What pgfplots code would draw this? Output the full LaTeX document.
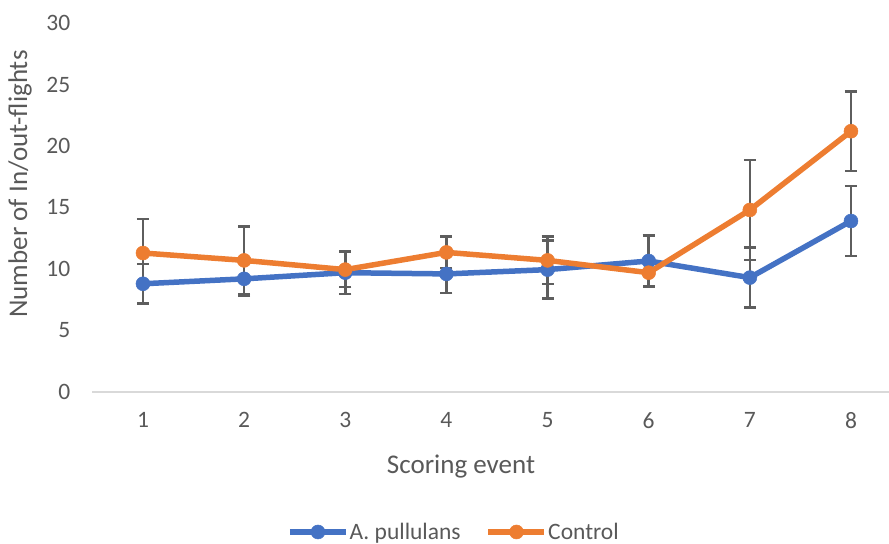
\documentclass[border=0pt]{standalone}
\usepackage{pgfplots}
\pgfplotsset{compat=1.18}
\usepackage{pgfplotstable}
\usepackage{fontspec}
\setmainfont{Carlito}

\definecolor{serBlue}{HTML}{4472C4}
\definecolor{serOrange}{HTML}{ED7D31}
\definecolor{txtGray}{HTML}{595959}
\definecolor{errGray}{HTML}{5E5E5E}
\definecolor{axGray}{HTML}{D9D9D9}

% event, mean, standard error
\pgfplotstableread{
x  y      e
1  8.80   1.60
2  9.20   1.35
3  9.70   1.75
4  9.60   1.55
5  9.95   2.35
6  10.65  2.06
7  9.30   2.45
8  13.90  2.85
}\pullulans

\pgfplotstableread{
x  y      e
1  11.30  2.75
2  10.70  2.75
3  9.95   1.43
4  11.35  1.28
5  10.70  1.93
6  9.70   1.13
7  14.80  4.06
8  21.20  3.25
}\control

\begin{document}
\begin{tikzpicture}
\begin{axis}[
  at={(92.4bp,152bp)}, anchor=south west,
  scale only axis,
  width=796.6bp, height=369bp,
  xmin=0.5, xmax=8.376,
  ymin=0, ymax=30,
  xtick={1,...,8},
  ytick={0,5,...,30},
  major tick length=0pt,
  axis x line*=bottom,
  axis y line*=left,
  x axis line style={draw=axGray, line width=1.5bp, -},
  y axis line style={draw=none},
  /pgf/number format/assume math mode=true,
  tick label style={font=\fontsize{23.5bp}{26bp}\selectfont, text=txtGray},
  xticklabel style={inner sep=0pt, anchor=north, yshift=-20bp},
  yticklabel style={inner sep=0pt, anchor=east, xshift=-22bp},
  xlabel={Scoring event},
  ylabel={Number of In/out-flights},
  label style={font=\fontsize{27bp}{29bp}\selectfont, text=txtGray},
  xlabel style={at={(rel axis cs:0.4627,-0.2033)}, anchor=center},
  ylabel style={at={(rel axis cs:-0.0909,0.5637)}, anchor=center, rotate=0},
  legend style={draw=none, fill=none, legend columns=2,
    at={(rel axis cs:0.4533,-0.3794)}, anchor=center,
    font=\fontsize{23.5bp}{26bp}\selectfont, text=txtGray,
    inner sep=0pt,
    nodes={inner sep=1bp},
    /tikz/every even column/.append style={column sep=24bp}},
  legend image code/.code={
    \draw[mark repeat=2, mark phase=2, #1]
      plot coordinates {(0bp,0bp) (28bp,0bp) (56bp,0bp)};},
  clip=false,
]
% error bars
\addplot[draw=none, forget plot,
  error bars/.cd, y dir=both, y explicit,
  error bar style={line width=2.5bp, color=errGray},
  error mark options={rotate=90, mark size=6bp, line width=2.5bp, color=errGray}]
  table[x=x, y=y, y error=e] {\pullulans};
\addplot[draw=none, forget plot,
  error bars/.cd, y dir=both, y explicit,
  error bar style={line width=2.5bp, color=errGray},
  error mark options={rotate=90, mark size=6bp, line width=2.5bp, color=errGray}]
  table[x=x, y=y, y error=e] {\control};
% series
\addplot[serBlue, line width=5.5bp, mark=*, mark size=7bp,
  mark options={solid, fill=serBlue, draw=serBlue, line width=0.5bp}]
  table[x=x, y=y] {\pullulans};
\addlegendentry{A. pullulans}
\addplot[serOrange, line width=5.5bp, mark=*, mark size=7bp,
  mark options={solid, fill=serOrange, draw=serOrange, line width=0.5bp}]
  table[x=x, y=y] {\control};
\addlegendentry{Control}
\end{axis}
\pgfresetboundingbox
\path[use as bounding box] (0,0) rectangle (889bp,544bp);
\end{tikzpicture}
\end{document}
